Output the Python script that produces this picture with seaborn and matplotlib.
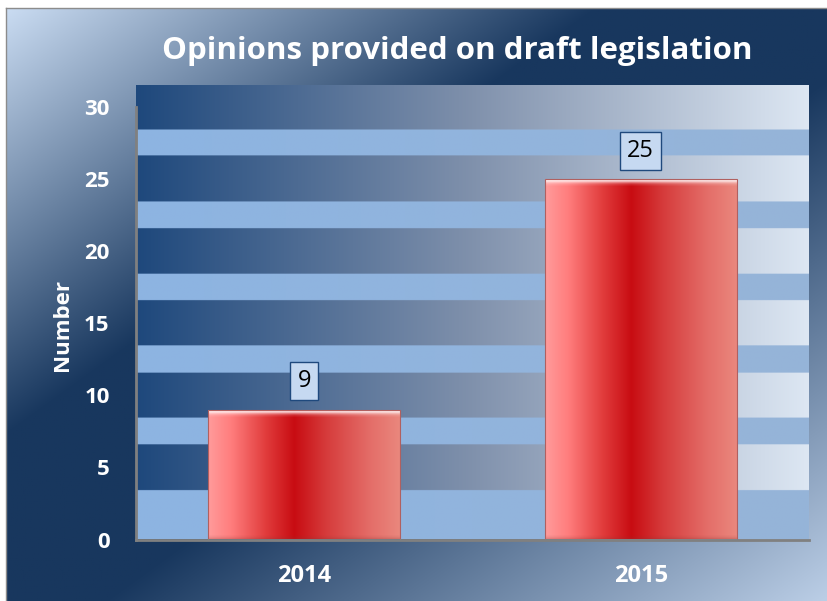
import numpy as np
import matplotlib
matplotlib.use("Agg")
import matplotlib.pyplot as plt
import seaborn as sns
import pandas as pd

# ---- data ----
years = ["2014", "2015"]
opinions = [9, 25]
yticks = [0, 5, 10, 15, 20, 25, 30]
title = "Opinions provided on draft legislation"
ylabel = "Number"

sns.set_theme(style="white")
plt.rcParams['font.family'] = ['Open Sans', 'DejaVu Sans']

W, H = 827, 601
fig = plt.figure(figsize=(W / 100, H / 100), dpi=100)
fig.patch.set_facecolor('white')


def interp_stops(t, stops):
    pos = np.array([s[0] for s in stops])
    cols = np.array([s[1] for s in stops], dtype=float) / 255.0
    out = np.empty(t.shape + (3,))
    for c in range(3):
        out[..., c] = np.interp(t, pos, cols[:, c])
    return out

# ---- outer chart background (diagonal gradient) ----
bg = fig.add_axes([6 / W, 0, 821 / W, 593 / H])
bg.set_zorder(-10)
nu, nv = 400, 300
u = np.linspace(0, 1, nu)[None, :]
v = np.linspace(0, 1, nv)[:, None]
q = (u + v) / 2.0
bg_img = interp_stops(q, [(0.0, (202, 220, 242)), (0.36, (24, 55, 94)),
                          (0.56, (24, 55, 94)), (1.0, (187, 206, 230))])
bg.imshow(bg_img, extent=[0, 1, 0, 1], origin='upper', aspect='auto')
bg.set_xlim(0, 1)
bg.set_ylim(0, 1)
bg.set_xticks([])
bg.set_yticks([])
for side, sp in bg.spines.items():
    sp.set_visible(side in ('top', 'left'))
    sp.set_color('#8C8C8C')
    sp.set_linewidth(1.0)

# ---- plot area ----
ax = fig.add_axes([136 / W, (H - 539.5) / H, 673 / W, (539.5 - 84.7) / H])
ax.set_facecolor('none')
YTOP = 31.56
df = pd.DataFrame({"year": years, "n": opinions})
sns.barplot(data=df, x="year", y="n", ax=ax, width=0.57, color="#C00000",
            zorder=3)

# banded plot-area fill
nrows, ncols = 1600, 400
yy = np.linspace(YTOP, 0, nrows)[:, None]
light_bands = [(26.61, 28.42), (21.57, 23.42), (16.57, 18.40), (11.53, 13.43),
               (6.56, 8.41), (0.0, 3.39)]
is_light = np.zeros((nrows, 1), dtype=bool)
for lo, hi in light_bands:
    is_light |= (yy >= lo) & (yy <= hi)
xx = np.linspace(0, 1, ncols)[None, :]
dark_row = interp_stops(xx, [(0.0, (30, 72, 124)), (0.5, (128, 145, 172)),
                             (1.0, (221, 231, 243))])
light_row = interp_stops(xx, [(0.0, (141, 180, 226)), (1.0, (150, 180, 216))])
band_img = np.where(is_light[..., None], light_row, dark_row)
band_img = np.broadcast_to(band_img, (nrows, ncols, 3))
ax.imshow(band_img, extent=[-0.5, 1.5, 0, YTOP], origin='upper',
          aspect='auto', zorder=0)

# gradient bars
px_per_unit = (539.5 - 84.7) / YTOP
bar_stops = [(0.0, (255, 155, 155)), (0.12, (255, 125, 125)),
             (0.30, (225, 60, 60)), (0.45, (200, 12, 18)),
             (0.62, (214, 60, 60)), (0.85, (228, 110, 105)),
             (1.0, (234, 135, 125))]
for p in ax.patches:
    x0, y0, w, h = p.get_x(), p.get_y(), p.get_width(), p.get_height()
    nr = max(int(round(h * px_per_unit)), 10)
    cx = np.linspace(0, 1, 200)[None, :]
    img = np.repeat(interp_stops(cx, bar_stops), nr, axis=0)
    prof = [0.25, 0.55, 0.85, 0.7, 0.45, 0.25, 0.12, 0.05]
    for r, a in enumerate(prof):
        img[r] = img[r] * (1 - a) + np.array([1, 0.96, 0.96]) * a
    dark_prof = [0.25, 0.15, 0.08, 0.04]
    for r, a in enumerate(dark_prof):
        img[nr - 1 - r] = img[nr - 1 - r] * (1 - a) + np.array([0.55, 0.2, 0.2]) * a
    im = ax.imshow(img, extent=[x0, x0 + w, y0, y0 + h], origin='upper',
                   aspect='auto', zorder=3.5)
    im.set_clip_path(p)
    p.set_facecolor('none')
    p.set_edgecolor('#B06060')
    p.set_linewidth(0.8)
    p.set_zorder(4)

# data labels
for i, val in enumerate(opinions):
    ax.text(i, val + 1.98, str(val), ha='center', va='center', fontsize=17,
            color='black', zorder=6,
            bbox=dict(boxstyle='square,pad=0.3', fc='#C6D9F1', ec='#1F497D',
                      lw=1.0))

ax.set_xlim(-0.5, 1.5)
ax.set_ylim(0, YTOP)
ax.set_yticks(yticks)
ax.set_yticklabels([str(t) for t in yticks], fontweight='bold', fontsize=16,
                   color='white')
ax.set_xticks(range(len(years)))
ax.set_xticklabels(years, fontweight='bold', fontsize=17, color='white')
ax.tick_params(axis='y', length=0, pad=19)
ax.tick_params(axis='x', length=0, pad=18)
ax.set_xlabel('')
ax.set_ylabel(ylabel, color='white', fontsize=16, fontweight='bold')
ax.yaxis.set_label_coords(-0.094, 0.472)
ax.grid(False)
for side, sp in ax.spines.items():
    sp.set_visible(side in ('left', 'bottom'))
    sp.set_color('#808080')
    sp.set_linewidth(2.0)
    sp.set_zorder(5)
ax.spines['left'].set_bounds(0, 30)

fig.text(457.5 / W, 1 - 51 / H, title, ha='center', va='center',
         color='white', fontsize=22.5, fontweight='bold')

fig.savefig('out.png', dpi=100, facecolor=fig.get_facecolor())
